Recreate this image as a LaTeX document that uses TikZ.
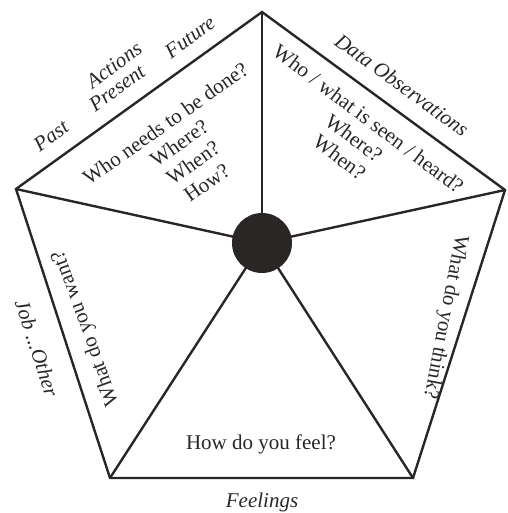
\documentclass[tikz,border=0pt]{standalone}
\usepackage{fontspec}
\setmainfont{Liberation Serif}
\usetikzlibrary{arrows.meta}
\definecolor{figink}{HTML}{2A2626}
\begin{document}
\begin{tikzpicture}[x=1pt, y=-1pt,
  rim/.style={line width=2.4pt, line join=miter, figink},
  sidelabel/.style={font=\fontsize{21}{24}\selectfont\itshape, text=figink},
  question/.style={font=\fontsize{21}{24}\selectfont, text=figink, align=center}]
\useasboundingbox (0,0) rectangle (507,513);
% Pentagon corners and the hub in the middle
\coordinate (top) at (262,12);
\coordinate (right) at (505,190);
\coordinate (botright) at (413,478);
\coordinate (botleft) at (110,478);
\coordinate (left) at (16,189);
\coordinate (mid) at (262,243);
\draw[rim] (top) -- (right) -- (botright) -- (botleft) -- (left) -- cycle;
\foreach \corner in {top,right,botright,botleft,left}
  \draw[rim] (mid) -- (\corner);
\node[circle, fill=figink, minimum size=60pt, inner sep=0pt] (hub) at (mid) {};

% Labels outside the rim
\node[sidelabel, rotate=36] (past) at (51,136) {Past};
\node[sidelabel, rotate=36] (actions) at (114,65) {Actions};
\node[sidelabel, rotate=36] (present) at (117,88) {Present};
\node[sidelabel, rotate=36] (future) at (190,37) {Future};
\node[sidelabel, rotate=-36] (data) at (402,85) {Data Observations};
\node[sidelabel, rotate=-72] (job) at (37,348) {Job ...Other};
\node[sidelabel] (feelings) at (262,502) {Feelings};

% Questions inside the five sectors
\node[question, rotate=35] (actq) at (186,153)
  {Who needs to be done?\\Where?\\When?\\How?};
\node[question, rotate=-37] (dataq) at (354,138)
  {Who / what is seen / heard?\\Where?\\When?};
\node[question, rotate=110] (wantq) at (86,328) {What do you want?};
\node[question, rotate=-101] (thinkq) at (445,317) {What do you think?};
\node[question] (feelq) at (261,444) {How do you feel?};
\end{tikzpicture}
\end{document}
